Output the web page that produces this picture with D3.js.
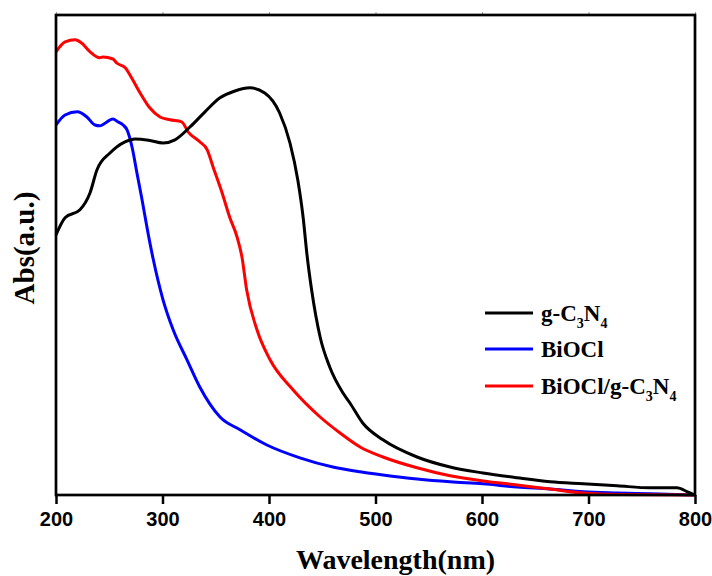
<!DOCTYPE html>
<html>
<head>
<meta charset="utf-8">
<script src="https://cdn.jsdelivr.net/npm/d3@7"></script>
<style>
  body { margin: 0; background: #fff; }
  svg { display: block; }
</style>
</head>
<body>
<svg id="chart" width="712" height="576"></svg>
<script>
// values (wavelength nm, absorbance a.u.)
var gc3n4 = [
  [200, 0.65], [208.5, 0.693], [222.5, 0.713], [231.9, 0.755], [238.5, 0.813],
  [250.7, 0.855], [264.8, 0.883], [274.2, 0.89], [287, 0.887], [300.5, 0.88],
  [311.7, 0.888], [325.8, 0.92], [339.9, 0.958], [354, 0.993], [368, 1.01],
  [382, 1.018], [396, 1.005], [410, 0.955], [419.7, 0.88], [427, 0.788],
  [432, 0.695], [435.7, 0.60], [440, 0.513], [448, 0.395], [457, 0.32],
  [469.5, 0.255], [476, 0.23], [488, 0.18], [507, 0.138], [539, 0.095],
  [570, 0.07], [601, 0.055], [633, 0.043], [664, 0.033], [695, 0.028],
  [727, 0.023], [758, 0.018], [783, 0.018], [793, 0.008], [800, 0.0]
];
var biocl = [
  [200, 0.925], [208.5, 0.95], [220, 0.958], [229, 0.945], [236.6, 0.925],
  [241, 0.923], [253.5, 0.94], [258, 0.933], [263, 0.925], [266.7, 0.913],
  [271.4, 0.87], [276, 0.805], [280.8, 0.738], [286.4, 0.655], [291, 0.593],
  [300.5, 0.488], [310, 0.413], [323, 0.338], [335, 0.27], [354, 0.195],
  [372.8, 0.163], [398, 0.125], [429, 0.093], [460, 0.07], [485.5, 0.058],
  [507, 0.05], [539, 0.04], [570, 0.033], [601, 0.028], [633, 0.02],
  [664, 0.015], [695, 0.008], [727, 0.005], [758, 0.003], [800, 0.0]
];
var composite = [
  [200, 1.108], [208.5, 1.133], [218, 1.138], [224, 1.13], [232, 1.108],
  [241, 1.093], [244, 1.095], [253.5, 1.09], [257, 1.08], [265, 1.068],
  [272, 1.038], [279, 1.005], [288, 0.968], [297.7, 0.945], [307, 0.938],
  [318, 0.933], [324, 0.908], [335, 0.883], [342, 0.863], [347.5, 0.82],
  [356, 0.755], [363, 0.695], [370, 0.645], [374.6, 0.595], [379, 0.513],
  [388.7, 0.413], [401, 0.338], [422.5, 0.263], [448, 0.195], [466.7, 0.155],
  [485.5, 0.12], [507, 0.095], [539, 0.068], [570, 0.048], [601, 0.035],
  [633, 0.025], [664, 0.015], [695, 0.005], [727, 0.001], [800, 0.0]
];
var xTicks = [200, 300, 400, 500, 600, 700, 800];
var seriesNames = ["g-C3N4", "BiOCl", "BiOCl/g-C3N4"];
var seriesColors = ["#000000", "#0000ff", "#ff0000"];

var margin = { top: 15, right: 17, bottom: 81, left: 56 };
var svg = d3.select("#chart");
var width = +svg.attr("width") - margin.left - margin.right;
var height = +svg.attr("height") - margin.top - margin.bottom;
var g = svg.append("g").attr("transform", `translate(${margin.left}, ${margin.top})`);

var x = d3.scaleLinear().domain([200, 800]).range([0, width]);
var y = d3.scaleLinear().domain([0, 1.2]).range([height, 0]);

var line = d3.line()
  .x(d => x(d[0]))
  .y(d => y(d[1]))
  .curve(d3.curveMonotoneX);

// curves
var allSeries = [gc3n4, biocl, composite];
[1, 2, 0].forEach(function (i) {
  g.append("path")
    .datum(allSeries[i])
    .attr("fill", "none")
    .attr("stroke", seriesColors[i])
    .attr("stroke-width", 3)
    .attr("stroke-linejoin", "round")
    .attr("d", line);
});

// bottom axis
var xAxis = g.append("g").attr("transform", `translate(0, ${height})`)
  .call(d3.axisBottom(x).tickValues(xTicks).tickSize(9).tickPadding(8).tickSizeOuter(0));
xAxis.select(".domain").remove();
xAxis.selectAll("line").attr("stroke", "#000").attr("stroke-width", 2.5);
xAxis.selectAll("text")
  .attr("font-family", "Liberation Sans, Arial, sans-serif")
  .attr("font-weight", "bold")
  .attr("font-size", 20)
  .attr("fill", "#000");

// small ticks on the top edge
g.append("g")
  .call(d3.axisTop(x).tickValues(xTicks).tickSize(3).tickFormat(""))
  .call(a => a.select(".domain").remove())
  .selectAll("line").attr("stroke", "#999").attr("stroke-width", 1);

// frame
g.append("rect")
  .attr("width", width).attr("height", height)
  .attr("fill", "none").attr("stroke", "#000").attr("stroke-width", 2.7);

// axis titles
svg.append("text")
  .attr("x", margin.left + width / 2 + 20).attr("y", 569)
  .attr("text-anchor", "middle")
  .attr("font-family", "Liberation Serif, Times New Roman, serif")
  .attr("font-weight", "bold").attr("font-size", 28)
  .text("Wavelength(nm)");

svg.append("text")
  .attr("transform", "translate(34, 248) rotate(-90)")
  .attr("text-anchor", "middle")
  .attr("font-family", "Liberation Serif, Times New Roman, serif")
  .attr("font-weight", "bold").attr("font-size", 29)
  .text("Abs(a.u.)");

// legend
var legendY = [313, 349, 386];
var legend = svg.append("g")
  .attr("font-family", "Liberation Serif, Times New Roman, serif")
  .attr("font-weight", "bold").attr("font-size", 23);

seriesNames.forEach(function (name, i) {
  legend.append("line")
    .attr("x1", 485).attr("x2", 533)
    .attr("y1", legendY[i]).attr("y2", legendY[i])
    .attr("stroke", seriesColors[i]).attr("stroke-width", 3);
  var t = legend.append("text").attr("x", 541).attr("y", legendY[i] + 8);
  // split at digits so they can be set as subscripts
  name.split(/(\d)/).forEach(function (part) {
    if (part === "") return;
    if (/\d/.test(part)) {
      t.append("tspan").attr("font-size", 14).attr("dy", 7).text(part);
    } else {
      var s = t.append("tspan").text(part);
      if (t.selectAll("tspan").size() > 1) s.attr("dy", -7);
    }
  });
});
</script>
</body>
</html>
